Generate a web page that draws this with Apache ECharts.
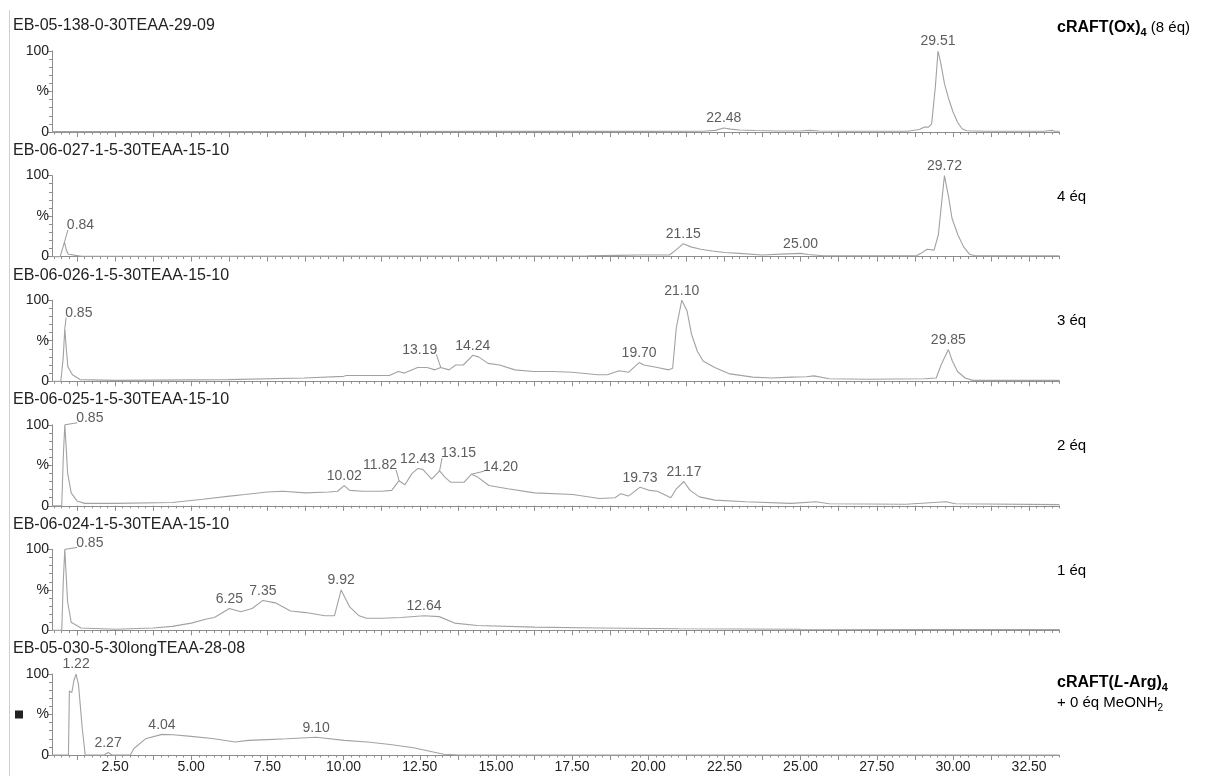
<!DOCTYPE html>
<html><head><meta charset="utf-8">
<script src="https://cdn.jsdelivr.net/npm/echarts@6/dist/echarts.min.js"></script>
<style>html,body{margin:0;padding:0;background:#fff}#c{width:1206px;height:776px}</style>
</head><body><div id="c"></div><script>
// ---------- data ----------
const panelTitles = [
  'EB-05-138-0-30TEAA-29-09',
  'EB-06-027-1-5-30TEAA-15-10',
  'EB-06-026-1-5-30TEAA-15-10',
  'EB-06-025-1-5-30TEAA-15-10',
  'EB-06-024-1-5-30TEAA-15-10',
  'EB-05-030-5-30longTEAA-28-08'
];
const xLabelValues = [2.5,5,7.5,10,12.5,15,17.5,20,22.5,25,27.5,30,32.5];
const xMajorTickValues = [1.25,2.5,3.75,5,6.25,7.5,8.75,10,11.25,12.5,13.75,15,16.25,17.5,18.75,20,21.25,22.5,23.75,25,26.25,27.5,28.75,30,31.25,32.5];
const yTickLabels = {0:'0', 50:'%', 100:'100'};

const trace1 = [[0.43,0.5],[5,0.5],[10,0.7],[15,0.8],[20,0.8],[21.8,1],[22.2,2],[22.48,5],[22.7,3.5],[23.0,2.5],[23.5,1.8],[24.2,1.2],[25.0,1.2],[25.3,2],[25.6,1.2],[26.5,1],[28.5,1],[28.9,3],[29.05,6],[29.2,6],[29.3,10],[29.42,55],[29.51,100],[29.6,85],[29.72,60],[29.85,42],[30.0,25],[30.15,12],[30.3,4],[30.45,1.5],[31,1],[33.0,1],[33.25,2],[33.35,1],[33.5,1]];
const trace2 = [[0.43,0],[0.7,0],[0.76,8],[0.84,18],[0.9,8],[0.97,3],[1.05,2.5],[1.2,1.5],[1.4,0.5],[5,0.5],[10,0.6],[15,0.8],[18,1],[19.0,1.5],[19.7,2],[20.7,2],[20.9,8],[21.15,16],[21.4,12],[21.72,9],[22.1,7],[22.5,5],[23.0,4],[23.73,2],[24.36,3],[25.0,4],[25.25,2.5],[25.75,1],[27,1],[28.8,1],[28.95,4],[29.15,9],[29.38,8],[29.52,27],[29.72,100],[29.85,75],[29.97,47],[30.16,27],[30.35,12],[30.54,3],[30.73,1],[33.5,1]];
const trace3 = [[0.43,0],[0.72,0],[0.8,30],[0.85,65],[0.9,40],[0.95,18],[1.1,8],[1.35,2],[2.5,1],[6.2,2],[8.7,4],[10.0,6],[10.1,7],[11.5,7],[11.8,12],[12.0,10],[12.43,17],[12.74,17],[13.0,14],[13.19,17],[13.46,14],[13.68,20],[13.93,20],[14.24,32],[14.43,30],[14.74,22],[15.12,20],[15.62,14],[16.24,12],[16.87,12],[17.5,11],[18.35,8],[18.66,8],[19.04,13],[19.35,11],[19.7,23],[19.86,20],[20.3,17],[20.67,14],[20.8,16],[20.92,66],[21.1,100],[21.27,87],[21.42,58],[21.61,37],[21.8,25],[22.18,17],[22.68,9],[23.43,5],[24.06,4],[24.69,5],[25.19,5.5],[25.44,6.6],[25.94,3],[27.19,2.5],[29.07,3],[29.45,4],[29.62,21],[29.85,39],[29.98,25],[30.15,12],[30.4,4],[30.65,1],[33.5,1]];
const trace4 = [[0.43,0],[0.75,0],[0.8,60],[0.85,100],[0.9,70],[0.94,41],[1.06,16],[1.25,6],[1.5,3],[2.5,3],[4.38,4],[5.38,8],[6.26,12],[6.76,14],[7.5,17],[8.0,18],[8.76,16],[9.51,17],[9.8,18],[10.02,25],[10.2,19],[10.64,18],[11.26,18],[11.58,19],[11.82,31],[12.01,26],[12.25,40],[12.43,46],[12.6,45],[12.89,33],[13.15,43],[13.33,35],[13.52,29],[13.95,29],[14.2,39],[14.38,36],[14.77,25],[15.39,21],[16.27,16],[17.52,14],[18.4,9],[18.91,10],[19.1,15],[19.35,12],[19.73,23],[20.05,19],[20.3,18],[20.74,10],[20.92,21],[21.17,30],[21.37,19],[21.68,11],[22.18,7],[23.19,5],[24.69,3],[25.5,5],[25.94,2.5],[28.45,2],[29.77,5],[30.08,2.5],[33.5,1.5]];
const trace5 = [[0.43,0],[0.75,0],[0.8,60],[0.85,100],[0.9,65],[0.94,36],[1.06,10],[1.38,3],[2.5,1.5],[3.75,3],[4.38,5],[5.0,9],[5.5,14],[5.76,16],[6.25,27],[6.63,23],[7.0,27],[7.35,37],[7.76,34],[8.26,24],[8.76,22],[9.39,18],[9.7,18],[9.92,50],[10.2,29],[10.51,18],[10.76,15],[11.26,15],[11.89,16],[12.64,18],[13.14,17],[13.64,9],[14.39,6],[16.27,4],[18.37,3],[21,2],[25,1.5],[33.5,1]];
const trace6 = [[0.43,0],[0.97,0],[1.0,79],[1.08,77],[1.15,92],[1.22,100],[1.3,87],[1.42,34],[1.52,0],[2.15,0],[2.27,3],[2.4,0],[3.0,0],[3.12,8],[3.5,20],[4.04,25.5],[4.4,25],[5.0,23],[5.75,20],[6.44,16],[6.88,18],[7.5,19],[8.14,20],[9.1,22],[10.02,18],[10.78,16],[11.53,13],[12.29,9],[12.79,5],[13.29,1],[13.79,0],[33.5,0]];

const peaks1 = [[22.48,5],[29.51,100]];
const peaks2 = [[0.84,18],[21.15,16],[25.00,4],[29.72,100]];
const peaks3 = [[0.85,65],[13.19,17],[14.24,32],[19.70,23],[21.10,100],[29.85,39]];
const peaks4 = [[0.85,100],[10.02,25],[11.82,31],[12.43,46],[13.15,43],[14.20,39],[19.73,23],[21.17,30]];
const peaks5 = [[0.85,100],[6.25,27],[7.35,37],[9.92,50],[12.64,18]];
const peaks6 = [[1.22,100],[2.27,3],[4.04,25.5],[9.10,22]];

const traces = [trace1,trace2,trace3,trace4,trace5,trace6];
const peaks = [peaks1,peaks2,peaks3,peaks4,peaks5,peaks6];

// ---------- layout / style ----------
const FONT = '"Liberation Sans", Arial, sans-serif';
const LABEL_FONT_SIZE = 14;
const X_MIN = 0.43, X_MAX = 33.5;
const GRID_LEFT = 52, GRID_W = 1007.6, GRID_TOP0 = 51, STEP = 124.6, PANEL_H = 81;
const AX = '#8c8c8c';
// label offsets (dx, dy in px) for labels drawn with a guide line, keyed "panel:time"
const labelOffsets = {
  '1:0.84':[16,-7], '2:0.85':[14,-6], '2:13.19':[-21,-8],
  '3:0.85':[25,3], '3:11.82':[-19,-6], '3:13.15':[19,-8], '3:14.20':[29,2],
  '4:0.85':[25,3]
};
const minorTicks = [];
for (let k = 1; k * 0.25 <= X_MAX; k++) minorTicks.push(k * 0.25);

const grids = [], xAxes = [], yAxes = [], series = [], graphics = [];
for (let i = 0; i < 6; i++) {
  const top = GRID_TOP0 + i * STEP;
  grids.push({left: GRID_LEFT, top: top, width: GRID_W, height: PANEL_H, show: false});
  xAxes.push({
    type: 'value', gridIndex: i, min: X_MIN, max: X_MAX, position: 'bottom',
    axisLine: {show: true, onZero: false, lineStyle: {color: AX, width: 1}},
    axisTick: {show: true, customValues: xMajorTickValues, length: 5, lineStyle: {color: AX}},
    axisLabel: {show: i === 5, customValues: xLabelValues, formatter: v => Number(v).toFixed(2),
      color: '#222', fontSize: 14, fontFamily: FONT, margin: 5},
    splitLine: {show: false}
  });
  xAxes.push({
    type: 'value', gridIndex: i, min: X_MIN, max: X_MAX, position: 'bottom',
    axisLine: {show: false, onZero: false},
    axisTick: {show: true, customValues: minorTicks, length: 2.5, lineStyle: {color: AX}},
    axisLabel: {show: false},
    splitLine: {show: false}
  });
  yAxes.push({
    type: 'value', gridIndex: i, min: 0, max: 100, interval: 50,
    axisLine: {show: true, lineStyle: {color: AX}},
    axisTick: {show: true, length: 5, lineStyle: {color: AX}},
    minorTick: {show: true, splitNumber: 5, length: 3, lineStyle: {color: AX}},
    axisLabel: {formatter: v => yTickLabels[v], color: '#222', fontSize: 14, fontFamily: FONT, margin: 3},
    splitLine: {show: false}, minorSplitLine: {show: false}
  });
  series.push({
    type: 'line', xAxisIndex: 2 * i, yAxisIndex: i, data: traces[i],
    symbol: 'none', showSymbol: false, silent: true, clip: false,
    lineStyle: {color: '#a2a2a2', width: 1.1}
  });
  series.push({
    type: 'scatter', xAxisIndex: 2 * i, yAxisIndex: i, data: peaks[i],
    symbol: 'circle', symbolSize: 1, itemStyle: {color: 'rgba(0,0,0,0)'}, silent: true, clip: false,
    label: {show: true, position: 'top', distance: 2, formatter: p => p.value[0].toFixed(2),
      color: '#333', fontSize: LABEL_FONT_SIZE, fontFamily: FONT},
    labelLayout: (function (pi) {
      return function (params) {
        const p = peaks[pi][params.dataIndex];
        const o = labelOffsets[pi + ':' + p[0].toFixed(2)];
        return o ? {dx: o[0], dy: o[1]} : {};
      };
    })(i)
  });
  graphics.push({type: 'text', x: 13, y: top - 25, silent: true,
    style: {text: panelTitles[i], font: '16px ' + FONT, fill: '#222', verticalAlign: 'middle', textVerticalAlign: 'middle'}});
}

// left frame line
graphics.push({type: 'line', silent: true, shape: {x1: 9.5, y1: 10, x2: 9.5, y2: 776}, style: {stroke: '#cfcfcf', lineWidth: 1}});
// small black square next to the last "%"
graphics.push({type: 'rect', silent: true, shape: {x: 15, y: GRID_TOP0 + 5 * STEP + PANEL_H / 2 - 4, width: 8, height: 8}, style: {fill: '#222'}});

const RX = 1057;
const richStyle = {
  b: {fontWeight: 'bold', fontSize: 16, fontFamily: FONT, lineHeight: 20, fill: '#000'},
  bi: {fontWeight: 'bold', fontStyle: 'italic', fontSize: 16, fontFamily: FONT, lineHeight: 20, fill: '#000'},
  bs: {fontWeight: 'bold', fontSize: 11, fontFamily: FONT, lineHeight: 20, verticalAlign: 'bottom', fill: '#000'},
  n: {fontSize: 15, fontFamily: FONT, lineHeight: 20, fill: '#000'},
  ns: {fontSize: 10, fontFamily: FONT, lineHeight: 20, verticalAlign: 'bottom', fill: '#000'}
};
const rightLabels = [
  {y: GRID_TOP0 - 23, text: '{b|cRAFT(Ox)}{bs|4}{n| (8 éq)}'},
  {y: GRID_TOP0 + 1 * STEP + 21, text: '{n|4 éq}'},
  {y: GRID_TOP0 + 2 * STEP + 21, text: '{n|3 éq}'},
  {y: GRID_TOP0 + 3 * STEP + 21, text: '{n|2 éq}'},
  {y: GRID_TOP0 + 4 * STEP + 21, text: '{n|1 éq}'},
  {y: GRID_TOP0 + 5 * STEP + 9, text: '{b|cRAFT(}{bi|L}{b|-Arg)}{bs|4}'},
  {y: GRID_TOP0 + 5 * STEP + 29, text: '{n|+ 0 éq MeONH}{ns|2}'}
];
rightLabels.forEach(r => graphics.push({type: 'text', x: RX, y: r.y, silent: true,
  style: {text: r.text, rich: richStyle, font: '15px ' + FONT, fill: '#000', verticalAlign: 'middle', textVerticalAlign: 'middle'}}));

const chart = echarts.init(document.getElementById('c'), null, {renderer: 'canvas'});
chart.setOption({
  animation: false,
  backgroundColor: '#fff',
  textStyle: {fontFamily: FONT},
  grid: grids, xAxis: xAxes, yAxis: yAxes, series: series, graphic: graphics
});

// guide lines from peak apex to the moved labels (positions from the chart's own scales)
const mctx = document.createElement('canvas').getContext('2d');
mctx.font = LABEL_FONT_SIZE + 'px ' + FONT;
const leaders = [];
peaks.forEach((arr, pi) => arr.forEach(p => {
  const o = labelOffsets[pi + ':' + p[0].toFixed(2)];
  if (!o) return;
  const pt = chart.convertToPixel({seriesIndex: 2 * pi}, p);
  const w = mctx.measureText(p[0].toFixed(2)).width;
  const cx = pt[0] + o[0];
  const bottom = pt[1] - 2 + o[1];
  const ex = o[0] > 0 ? cx - w / 2 + 1 : cx + w / 2 - 1;
  const ey = bottom - 3;
  leaders.push({type: 'line', silent: true, shape: {x1: pt[0], y1: pt[1], x2: ex, y2: ey},
    style: {stroke: '#9a9a9a', lineWidth: 1}});
}));
chart.setOption({graphic: graphics.concat(leaders)});
</script></body></html>
